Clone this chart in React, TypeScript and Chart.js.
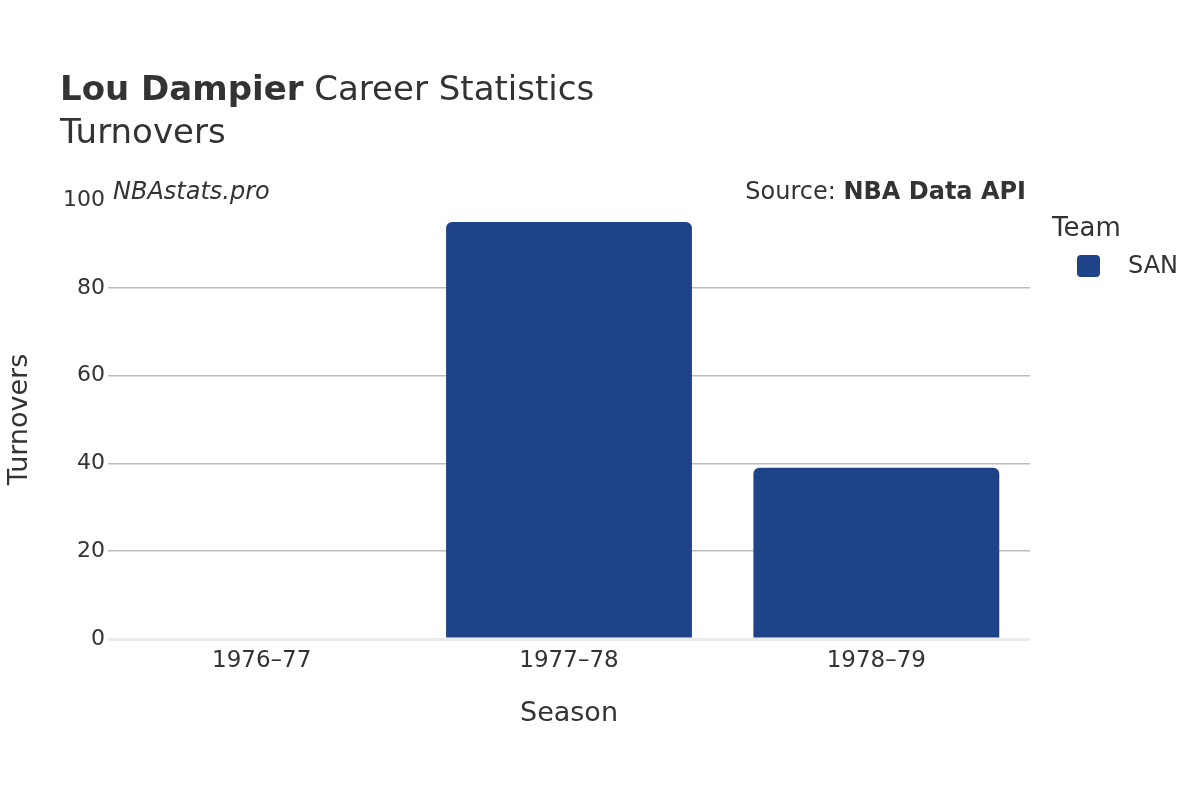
import React, { useEffect, useRef } from "react";
import { Chart, registerables } from "chart.js";

Chart.register(...registerables);

const seasons = ["1976–77", "1977–78", "1978–79"];
const turnovers: (number | null)[] = [null, 95, 39];
const teamName = "SAN";
const yTicks = [0, 20, 40, 60, 80, 100];

const FONT = "'DejaVu Sans', sans-serif";
const BAR = "#1e4388";
const TEXT = "#333333";

const overlay = {
  id: "overlay",
  afterDraw(chart: any) {
    const ctx = chart.ctx as CanvasRenderingContext2D;
    const area = chart.chartArea;
    ctx.save();
    ctx.textBaseline = "alphabetic";
    ctx.fillStyle = TEXT;
    // title
    ctx.textAlign = "left";
    ctx.font = `bold 34px ${FONT}`;
    const bold = "Lou Dampier";
    ctx.fillText(bold, 60, 100);
    const w = ctx.measureText(bold).width;
    ctx.font = `34px ${FONT}`;
    ctx.fillText(" Career Statistics", 60 + w, 100);
    ctx.font = `34px ${FONT}`;
    ctx.fillText("Turnovers", 60, 143);
    // watermark
    ctx.font = `italic 24px ${FONT}`;
    ctx.fillText("NBAstats.pro", 113, 199);
    // source
    ctx.textAlign = "right";
    ctx.font = `bold 24px ${FONT}`;
    const src = "NBA Data API";
    ctx.fillText(src, 1026, 199);
    const sw = ctx.measureText(src).width;
    ctx.font = `24px ${FONT}`;
    ctx.fillText("Source: ", 1026 - sw, 199);
    // axis titles
    ctx.textAlign = "center";
    ctx.font = `27px ${FONT}`;
    ctx.fillText("Season", (area.left + area.right) / 2, 721);
    ctx.save();
    ctx.translate(27, (area.top + area.bottom) / 2);
    ctx.rotate(-Math.PI / 2);
    ctx.fillText("Turnovers", 0, 0);
    ctx.restore();
    // legend
    ctx.textAlign = "left";
    ctx.font = `26px ${FONT}`;
    ctx.fillText("Team", 1052, 236);
    ctx.fillStyle = BAR;
    ctx.beginPath();
    (ctx as any).roundRect(1077, 255, 23, 22, 4);
    ctx.fill();
    ctx.fillStyle = TEXT;
    ctx.font = `24px ${FONT}`;
    ctx.textBaseline = "middle";
    ctx.fillText(teamName, 1128, 267);
    ctx.restore();
  },
};

export default function App() {
  const ref = useRef<HTMLCanvasElement | null>(null);
  useEffect(() => {
    document.body.style.margin = "0";
    const canvas = ref.current!;
    const chart = new Chart(canvas, {
      type: "bar",
      data: {
        labels: seasons,
        datasets: [
          {
            label: teamName,
            data: turnovers,
            backgroundColor: BAR,
            borderRadius: { topLeft: 6, topRight: 6, bottomLeft: 0, bottomRight: 0 },
            borderSkipped: "bottom",
            categoryPercentage: 0.8,
            barPercentage: 1.0,
          },
        ],
      },
      options: {
        responsive: false,
        animation: false,
        events: [],
        layout: { padding: { top: 200, right: 170, left: 0, bottom: 0 } },
        plugins: {
          legend: { display: false },
          title: { display: false },
          tooltip: { enabled: false },
        },
        scales: {
          x: {
            grid: { display: false },
            border: { display: false },
            ticks: { color: TEXT, font: { family: FONT, size: 23 }, padding: 0 },
            afterFit(scale: any) {
              scale.height = 161;
            },
          },
          y: {
            min: 0,
            max: 100,
            afterBuildTicks(scale: any) {
              scale.ticks = yTicks.map((v) => ({ value: v }));
            },
            grid: {
              color: (c: any) =>
                c.tick && c.tick.value === 0
                  ? "#ebebeb"
                  : c.tick && c.tick.value === 100
                  ? "rgba(0,0,0,0)"
                  : "#bdbdbd",
              lineWidth: (c: any) => (c.tick && c.tick.value === 0 ? 3 : 1.5),
              drawTicks: false,
            },
            border: { display: false },
            ticks: { color: TEXT, font: { family: FONT, size: 22 }, padding: 3 },
            afterFit(scale: any) {
              scale.width = 108;
            },
          },
        },
      },
      plugins: [overlay],
    });
    return () => chart.destroy();
  }, []);
  return (
    <div style={{ width: 1200, height: 800, background: "#fff" }}>
      <canvas ref={ref} width={1200} height={800} />
    </div>
  );
}
